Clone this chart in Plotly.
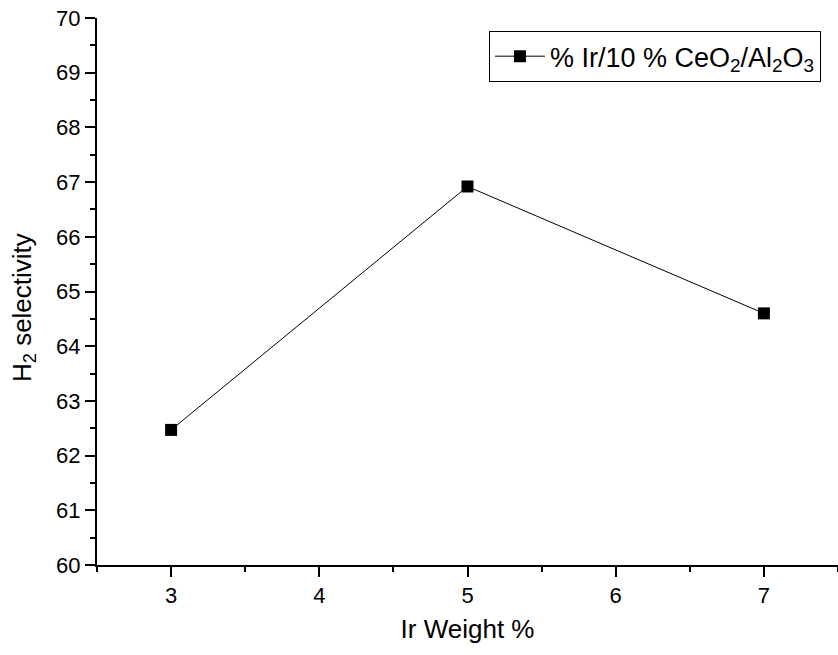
import plotly.graph_objects as go

ir_weight = [3, 5, 7]
h2_selectivity = [62.47, 66.92, 64.6]
series_name = "% Ir/10 % CeO<sub>2</sub>/Al<sub>2</sub>O<sub>3</sub>"
x_title = "Ir Weight %"
y_title = "H<sub>2</sub> selectivity"

fig = go.Figure()
fig.add_trace(go.Scatter(
    x=ir_weight, y=h2_selectivity, mode="lines+markers", name=series_name,
    line=dict(color="black", width=1),
    marker=dict(symbol="square", size=12, color="black"),
))

font = "Liberation Sans, Arial, sans-serif"
tickfont = dict(size=22, family=font, color="black")
fig.add_annotation(text=y_title, textangle=-90, xref="paper", yref="paper",
                   x=-97 / 741 + 23 / 741, y=(565 - 308) / 547,
                   xanchor="center", yanchor="middle", showarrow=False,
                   font=dict(size=26, family=font, color="black"))
fig.update_layout(
    width=838, height=655,
    margin=dict(l=97, r=0, t=18, b=90),
    paper_bgcolor="white", plot_bgcolor="white",
    font=dict(family=font, color="black", size=22),
    showlegend=True,
    legend=dict(x=0.977, y=0.976, xanchor="right", yanchor="top",
                bordercolor="black", borderwidth=1, bgcolor="white",
                itemwidth=50,
                font=dict(size=27, family=font)),
    xaxis=dict(range=[2.5, 7.5], dtick=1, tick0=3, showgrid=False, zeroline=False,
               showline=True, linecolor="black", linewidth=2,
               ticks="outside", ticklen=10, tickwidth=2, tickcolor="black",
               tickfont=tickfont,
               minor=dict(ticks="outside", ticklen=5, tickwidth=2, dtick=0.5, tick0=2.5, tickcolor="black"),
               title=dict(text=x_title, font=dict(size=26, family=font), standoff=12)),
    yaxis=dict(range=[60, 70], dtick=1, showgrid=False, zeroline=False,
               showline=True, linecolor="black", linewidth=2,
               ticks="outside", ticklen=10, tickwidth=2, tickcolor="black",
               tickfont=tickfont,
               minor=dict(ticks="outside", ticklen=5, tickwidth=2, dtick=0.5, tickcolor="black")),
)
fig.write_html("out.html")
